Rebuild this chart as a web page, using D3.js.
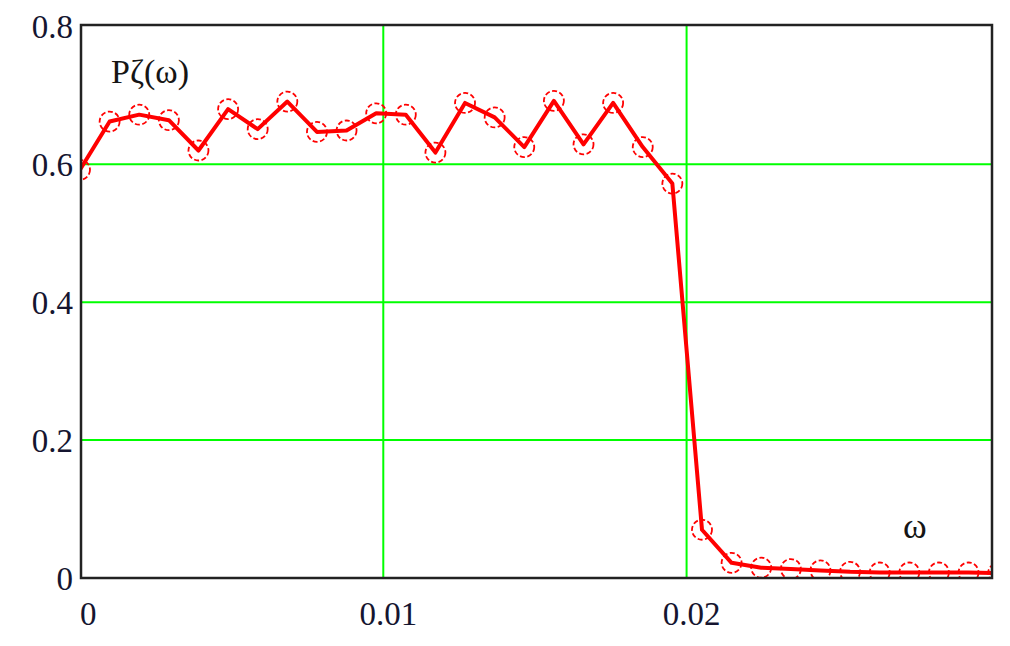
<!DOCTYPE html>
<html>
<head>
<meta charset="utf-8">
<script src="https://cdn.jsdelivr.net/npm/d3@7"></script>
<style>
  html, body { margin: 0; padding: 0; background: #fff; }
  svg { display: block; }
</style>
</head>
<body>
<svg id="chart" width="1010" height="646"></svg>
<script>
// ---- data ----
const omega = [0, 0.000977, 0.001953, 0.002930, 0.003906, 0.004883, 0.005859, 0.006836,
  0.007813, 0.008789, 0.009766, 0.010742, 0.011719, 0.012695, 0.013672, 0.014648,
  0.015625, 0.016602, 0.017578, 0.018555, 0.019531, 0.020508, 0.021484, 0.022461,
  0.023438, 0.024414, 0.025391, 0.026367, 0.027344, 0.028320, 0.029297, 0.030273];
const Pzeta = [0.592, 0.662, 0.672, 0.664, 0.620, 0.680, 0.651, 0.691,
  0.647, 0.649, 0.674, 0.672, 0.617, 0.689, 0.668, 0.625,
  0.692, 0.629, 0.689, 0.625, 0.572, 0.070, 0.022, 0.015,
  0.013, 0.011, 0.009, 0.008, 0.008, 0.008, 0.008, 0.007];
const xTicks = [0, 0.01, 0.02];
const xTickLabels = ["0", "0.01", "0.02"];
const yTicks = [0, 0.2, 0.4, 0.6, 0.8];
const yTickLabels = ["0", "0.2", "0.4", "0.6", "0.8"];
const yLabel = "Pζ(ω)";
const xLabel = "ω";

// ---- layout ----
const svg = d3.select("#chart");
const L = 80, R = 992, T = 26, B = 578;
const x = d3.scaleLinear().domain([0, 0.03007]).range([L, R]);
const y = d3.scaleLinear().domain([0, 0.8]).range([B, 26.4]);
const font = "'Liberation Serif', 'Times New Roman', serif";

svg.append("defs").append("clipPath").attr("id", "clip")
  .append("rect").attr("x", L).attr("y", T - 1).attr("width", R - L).attr("height", B - T + 1);

// grid
const grid = svg.append("g");
grid.selectAll("line.gx").data(xTicks.filter(d => d > 0)).enter().append("line")
  .attr("x1", d => x(d)).attr("x2", d => x(d)).attr("y1", T).attr("y2", B)
  .attr("stroke", "#00ff00").attr("stroke-width", 2);
grid.selectAll("line.gy").data(yTicks.filter(d => d > 0 && d < 0.8)).enter().append("line")
  .attr("x1", L).attr("x2", R).attr("y1", d => y(d)).attr("y2", d => y(d))
  .attr("stroke", "#00ff00").attr("stroke-width", 2);

// data
const pts = omega.map((w, i) => [w, Pzeta[i]]);
const plot = svg.append("g").attr("clip-path", "url(#clip)");
plot.append("path").datum(pts)
  .attr("d", d3.line().x(d => x(d[0])).y(d => y(d[1])))
  .attr("fill", "none").attr("stroke", "#ff0000").attr("stroke-width", 4)
  .attr("stroke-linejoin", "round");
plot.selectAll("circle").data(pts).enter().append("circle")
  .attr("cx", d => x(d[0])).attr("cy", d => y(d[1])).attr("r", 10)
  .attr("fill", "none").attr("stroke", "#ff0000").attr("stroke-width", 1.8)
  .attr("stroke-dasharray", "5,2.5");

// frame
svg.append("rect").attr("x", L + 1).attr("y", T - 1).attr("width", R - L - 1).attr("height", B - T + 1)
  .attr("fill", "none").attr("stroke", "#222").attr("stroke-width", 2.5);

// tick labels
svg.selectAll("text.xt").data(xTicks).enter().append("text")
  .attr("x", (d, i) => i === 0 ? x(d) : x(d) + 5)
  .attr("y", 625)
  .attr("text-anchor", (d, i) => i === 0 ? "start" : "middle")
  .attr("font-family", font).attr("font-size", 33).attr("fill", "#151530")
  .text((d, i) => xTickLabels[i]);
svg.selectAll("text.yt").data(yTicks).enter().append("text")
  .attr("x", 73)
  .attr("y", d => y(d) + 12)
  .attr("text-anchor", "end")
  .attr("font-family", font).attr("font-size", 33).attr("fill", "#151530")
  .text((d, i) => yTickLabels[i]);

// axis labels
svg.append("text").attr("x", 111).attr("y", 83)
  .attr("font-family", font).attr("font-size", 34).attr("fill", "#151515")
  .text(yLabel);
svg.append("text").attr("x", 903).attr("y", 538)
  .attr("font-family", font).attr("font-size", 36).attr("fill", "#151515")
  .text(xLabel);
</script>
</body>
</html>
